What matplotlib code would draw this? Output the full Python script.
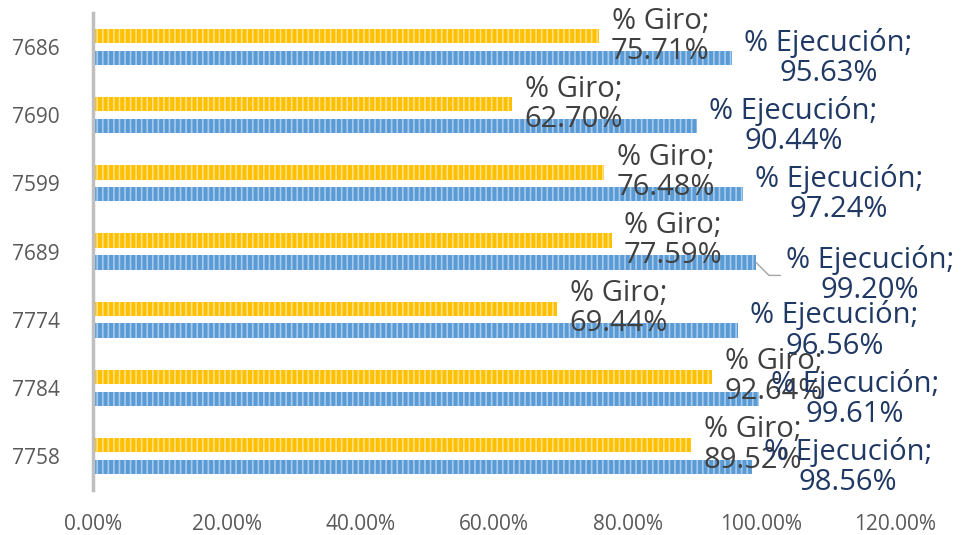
import numpy as np
import matplotlib.pyplot as plt

plt.rcParams['font.family'] = ['Open Sans', 'DejaVu Sans']
plt.rcParams['hatch.linewidth'] = 1.2

# data
categories = ["7686", "7690", "7599", "7689", "7774", "7784", "7758"]
giro = [75.71, 62.70, 76.48, 77.59, 69.44, 92.64, 89.52]
ejecucion = [95.63, 90.44, 97.24, 99.20, 96.56, 99.61, 98.56]

fig = plt.figure(figsize=(9.61, 5.35), dpi=100)
ax = fig.add_axes([93 / 961, 45 / 535, 802 / 961, 477 / 535])

y = np.arange(len(categories))
off = 0.16
h = 0.21

ax.barh(y - off, np.array(giro) / 100, height=h, color="#FFC000",
        edgecolor="#FFE08A", linewidth=0, hatch="|||")
ax.barh(y + off, np.array(ejecucion) / 100, height=h, color="#5B9BD5",
        edgecolor="#A9CBEB", linewidth=0, hatch="|||")

ax.set_xlim(0, 1.2)
ax.set_ylim(len(categories) - 0.5, -0.5)
ax.set_yticks(y)
ax.set_yticklabels(categories)
ax.set_xticks(np.arange(0, 1.21, 0.2))
ax.set_xticklabels(["%.2f%%" % (v * 100) for v in np.arange(0, 1.21, 0.2)])
ax.tick_params(axis="both", length=0, labelsize=15, colors="#595959")
ax.tick_params(axis="y", pad=24)
ax.tick_params(axis="x", pad=17)

for s in ["top", "right", "bottom"]:
    ax.spines[s].set_visible(False)
ax.spines["left"].set_color("#BFBFBF")
ax.spines["left"].set_linewidth(2.5)

# labels
fs = 21
for i in range(len(categories)):
    ax.annotate("%% Giro;\n%.2f%%" % giro[i], (giro[i] / 100, i - off),
                xytext=(12, 0), textcoords="offset pixels", ha="left",
                va="center", multialignment="center", fontsize=fs,
                color="#404040", linespacing=1.05)
    if categories[i] == "7689":
        ax.annotate("% Ejecución;\n" + "%.2f%%" % ejecucion[i],
                    (ejecucion[i] / 100, i + off),
                    xytext=(30, -13), textcoords="offset pixels", ha="left",
                    va="center", multialignment="center", fontsize=fs,
                    color="#203864", linespacing=1.05,
                    arrowprops=dict(arrowstyle="-", color="#A6A6A6", lw=1,
                                    shrinkA=2, shrinkB=0, relpos=(0, 0.5),
                                    connectionstyle="angle,angleA=0,angleB=-45,rad=0"))
    else:
        ax.annotate("% Ejecución;\n" + "%.2f%%" % ejecucion[i],
                    (ejecucion[i] / 100, i + off),
                    xytext=(12, 0), textcoords="offset pixels", ha="left",
                    va="center", multialignment="center", fontsize=fs,
                    color="#203864", linespacing=1.05)

fig.savefig("out.png", dpi=100)
